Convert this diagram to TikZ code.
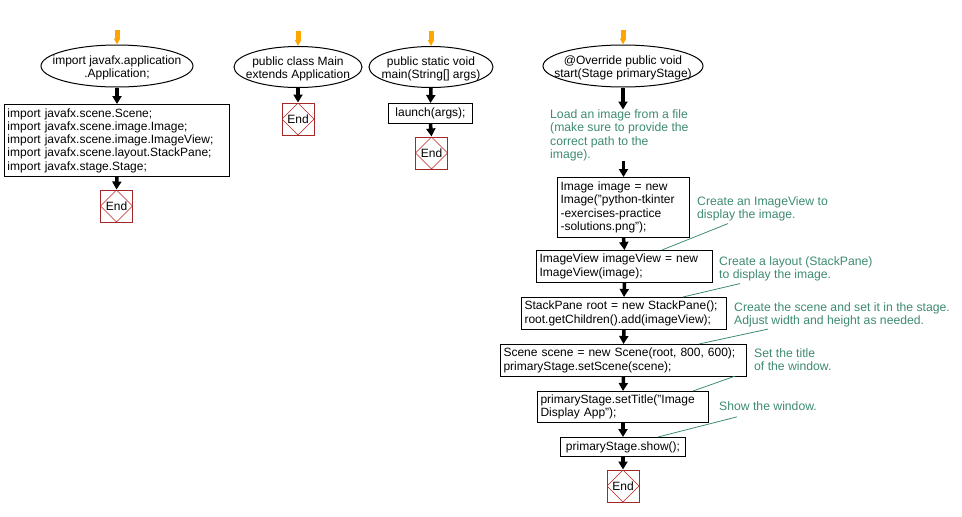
\documentclass[tikz,border=0pt]{standalone}
\usepackage{fontspec}
\setmainfont{Liberation Sans}
\usetikzlibrary{shapes.geometric,arrows.meta}
\definecolor{notegreen}{RGB}{61,139,110}
\definecolor{endred}{RGB}{165,40,40}
\definecolor{startorange}{RGB}{255,165,0}
\def\EndAt#1#2{\node[endbox] (#1) at (#2) {End};}
\def\Oval#1{\makebox[0pt]{\raisebox{-5pt}[0pt][0pt]{\begin{tabular}{@{}c@{}}#1\end{tabular}}}}

\begin{document}
\begin{tikzpicture}[x=1pt,y=-1pt,
  every node/.style={font=\fontsize{12}{13.3}\selectfont},
  stmt/.style={draw,line width=1pt,anchor=north west,align=left,inner xsep=3pt,inner ysep=1pt},
  oval/.style={draw,ellipse,line width=1pt,inner sep=0pt},
  endbox/.style={draw=endred,line width=1pt,minimum size=32pt,inner sep=0pt,
    path picture={\draw[endred!70!red,line width=0.6pt] (path picture bounding box.north) -- (path picture bounding box.east)
      -- (path picture bounding box.south) -- (path picture bounding box.west) -- cycle;}},
  note/.style={text=notegreen,anchor=north west,align=left,inner sep=0pt,font=\fontsize{12.2}{13.3}\selectfont},
  noteline/.style={notegreen,line width=0.8pt},
  flow/.style={line width=3.5pt,-{Triangle[length=8pt,width=9pt]}},
  start/.style={startorange,line width=5pt,-{Triangle[length=6pt,width=6pt]}}]
\useasboundingbox (0,0) rectangle (962,517);
\node[oval,minimum width=152pt,minimum height=42pt] (imp) at (117,66) {\Oval{import javafx.application\\.Application;}};
\node[stmt,text width=219pt,minimum height=72pt] (imps) at (4,104) {import javafx.scene.Scene;\\import javafx.scene.image.Image;\\import javafx.scene.image.ImageView;\\import javafx.scene.layout.StackPane;\\import javafx.stage.Stage;};
\EndAt{e1}{116.5,206}
\draw[flow] (imp.south) -- (imps.north);
\draw[flow] (imps.south) -- (e1.north);

\node[oval,minimum width=128pt,minimum height=41pt] (cls) at (298,67) {\Oval{public class Main\\extends Application}};
\EndAt{e2}{298,119}
\draw[flow] (cls.south) -- (e2.north);

\node[oval,minimum width=124pt,minimum height=41pt] (mn) at (431,67) {\Oval{public static void\\main(String[] args)}};
\node[stmt,text width=78pt,minimum height=20pt,align=center] (lch) at (388,103) {launch(args);};
\EndAt{e3}{431.5,153}
\draw[flow] (mn.south) -- (lch.north);
\draw[flow] (lch.south) -- (e3.north);

\node[oval,minimum width=160pt,minimum height=42pt] (stt) at (623,66) {\Oval{@Override public void\\start(Stage primaryStage)}};
\node[note] (c0) at (550,109.5) {Load an image from a file\\(make sure to provide the\\correct path to the\\image).};
\node[stmt,text width=126pt,minimum height=60pt] (img) at (557,177) {Image image = new\\Image("python-tkinter\\-exercises-practice\\-solutions.png");};
\node[stmt,text width=170pt,minimum height=32pt] (iv) at (536,250) {ImageView imageView = new\\ImageView(image);};
\node[stmt,text width=199pt,minimum height=32pt] (sp) at (521,297) {StackPane root = new StackPane();\\root.getChildren().add(imageView);};
\node[stmt,text width=240pt,minimum height=32pt] (sc) at (500,344) {Scene scene = new Scene(root, 800, 600);\\primaryStage.setScene(scene);};
\node[stmt,text width=165pt,minimum height=31pt] (ttl) at (537,391) {primaryStage.setTitle("Image\\Display App");};
\node[stmt,text width=119pt,minimum height=19pt,align=center] (shw) at (560,437) {primaryStage.show();};
\EndAt{e4}{623,486}
\draw[flow] (stt.south) -- (stt.south |- c0.north);
\draw[flow] (img.north |- c0.south) -- (img.north);
\draw[flow] (img.south) -- (iv.north);
\draw[flow] (iv.south) -- (sp.north);
\draw[flow] (sp.south) -- (sc.north);
\draw[flow] (sc.south) -- (ttl.north);
\draw[flow] (ttl.south) -- (shw.north);
\draw[flow] (shw.south) -- (e4.north);

\node[note] (c1) at (697,196.5) {Create an ImageView to\\display the image.};
\node[note] (c2) at (719,256.5) {Create a layout (StackPane)\\to display the image.};
\node[note] (c3) at (734,302) {Create the scene and set it in the stage.\\Adjust width and height as needed.};
\node[note] (c4) at (754,348.5) {Set the title\\of the window.};
\node[note] (c5) at (719,401.5) {Show the window.};
\draw[noteline] ([shift={(31,2)}]c1.south west) -- ([shift={(126,0)}]iv.north west);
\draw[noteline] ([shift={(21,2)}]c2.south west) -- ([shift={(162,0)}]sp.north west);
\draw[noteline] ([shift={(34,2)}]c3.south west) -- ([shift={(199,0)}]sc.north west);
\draw[noteline] ([shift={(-19,5)}]c4.south west) -- ([shift={(156,0)}]ttl.north west);
\draw[noteline] ([shift={(18,6)}]c5.south west) -- ([shift={(98,0)}]shw.north west);

\foreach \n in {imp,cls,mn,stt} \draw[start] ([yshift=15pt]\n.north) -- (\n.north);
\end{tikzpicture}
\end{document}
